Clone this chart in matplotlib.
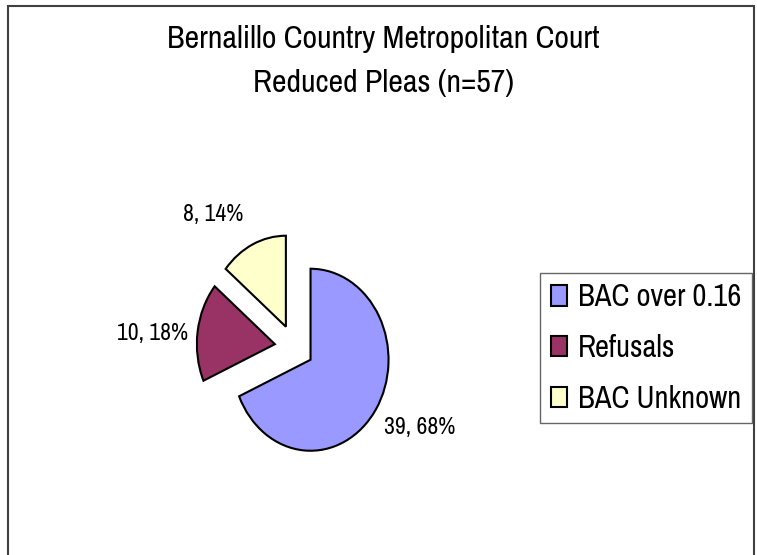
import matplotlib
matplotlib.use("Agg")
import matplotlib.pyplot as plt
from matplotlib.patches import Rectangle

plt.rcParams['font.family'] = ['Archivo Narrow', 'DejaVu Sans']

categories = ["BAC over 0.16", "Refusals", "BAC Unknown"]
values = [39, 10, 8]
colors = ["#9999FF", "#993366", "#FFFFCC"]
title_lines = ["Bernalillo Country Metropolitan Court", "Reduced Pleas (n=57)"]

W, H = 757, 555
fig = plt.figure(figsize=(W / 100, H / 100), dpi=100)
fig.patch.set_facecolor("white")

# outer chart frame
fig.add_artist(Rectangle((8 / W, -0.05), (754 - 8) / W, 1.05 - 6 / H,
                         transform=fig.transFigure, fill=False,
                         edgecolor="#404040", linewidth=1.5))

# title
fig.text(383.5 / W, 1 - 48 / H, title_lines[0], ha="center", va="baseline", fontsize=23)
fig.text(383.5 / W, 1 - 92 / H, title_lines[1], ha="center", va="baseline", fontsize=23)

# pie axes (elliptical pie: rx=78px, ry=91px)
cx, cy, rx, ry = 294.2, 347.3, 78, 91
ax = fig.add_axes([(cx - 1.25 * rx) / W, (H - cy - 1.25 * ry) / H,
                   2.5 * rx / W, 2.5 * ry / H])
wedges, _ = ax.pie(values, colors=colors, startangle=90, counterclock=False,
                   explode=[0.25] * len(values),
                   wedgeprops=dict(edgecolor="black", linewidth=1.5))
ax.set_aspect("auto")
ax.set_xlim(-1.25, 1.25)
ax.set_ylim(-1.25, 1.25)
ax.axis("off")

total = sum(values)
label_pos = [(1.61, -0.88), (-1.82, 0.15), (-1.04, 1.46)]
for v, (lx, ly) in zip(values, label_pos):
    ax.text(lx, ly, f"{v}, {round(100 * v / total)}%", ha="center", va="center",
            fontsize=17)

leg = fig.legend(wedges, categories, loc="center",
                 bbox_to_anchor=(646 / W, 1 - 348 / H),
                 fontsize=22, frameon=True, fancybox=False,
                 handlelength=0.55, handleheight=0.65, handletextpad=0.35,
                 labelspacing=0.75, borderpad=0.33, borderaxespad=0)
leg.get_frame().set_edgecolor("#404040")
leg.get_frame().set_linewidth(1.0)

fig.savefig("out.png", dpi=100)
